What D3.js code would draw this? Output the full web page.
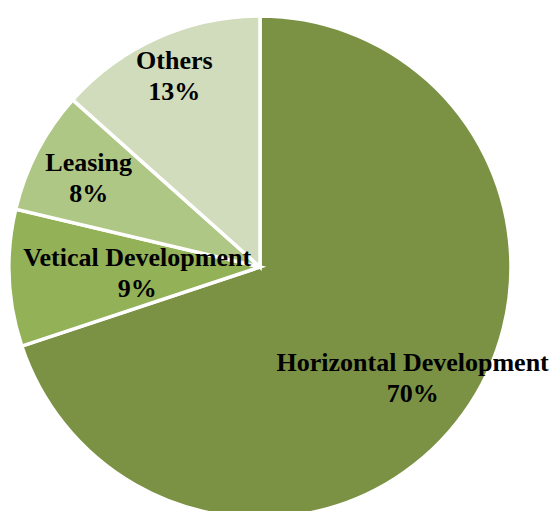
<!DOCTYPE html>
<html>
<head>
<meta charset="utf-8">
<script src="https://cdn.jsdelivr.net/npm/d3@7"></script>
<style>
  body { margin: 0; background: #fff; }
  svg { display: block; }
</style>
</head>
<body>
<div id="chart"></div>
<script>
// donnees du graphique
const categories = ["Horizontal Development", "Vetical Development", "Leasing", "Others"];
const values = [69.9, 8.8, 7.9, 13.4];
const colors = ["#7b9245", "#93b157", "#afc785", "#d0dcbb"];

// distance relative des etiquettes (placees par Excel)
const labelRadius = [0.75, 0.49, 0.77, 0.835];

const width = 555,
    height = 511;
const cx = 260,
    cy = 267,
    radius = 251;

var svg = d3.select("#chart")
    .append("svg")
    .attr("width", width)
    .attr("height", height);

var g = svg.append("g")
    .attr("transform", "translate(" + cx + "," + cy + ")");

var pie = d3.pie()
    .sort(null)
    .value(function(d) { return d; });

var arc = d3.arc()
    .innerRadius(0)
    .outerRadius(radius);

var arcs = pie(values);

g.selectAll("path")
    .data(arcs)
    .join("path")
    .attr("d", arc)
    .style("fill", function(d, i) { return colors[i]; })
    .style("stroke", "#fff")
    .style("stroke-width", "3.5px")
    .style("stroke-linejoin", "miter");

// etiquettes
var labels = g.selectAll("text")
    .data(arcs)
    .join("text")
    .attr("transform", function(d, i) {
        var r = radius * labelRadius[i];
        var a = (d.startAngle + d.endAngle) / 2;
        return "translate(" + (r * Math.sin(a)) + "," + (-r * Math.cos(a)) + ")";
    })
    .attr("text-anchor", "middle")
    .style("font-family", "'Liberation Serif', 'Times New Roman', serif")
    .style("font-weight", "bold")
    .style("font-size", "26px")
    .style("fill", "#000");

labels.append("tspan")
    .attr("x", 0)
    .attr("y", -6.5)
    .text(function(d, i) { return categories[i]; });

labels.append("tspan")
    .attr("x", 0)
    .attr("y", 24.5)
    .text(function(d) { return Math.round(d.data) + "%"; });
</script>
</body>
</html>
